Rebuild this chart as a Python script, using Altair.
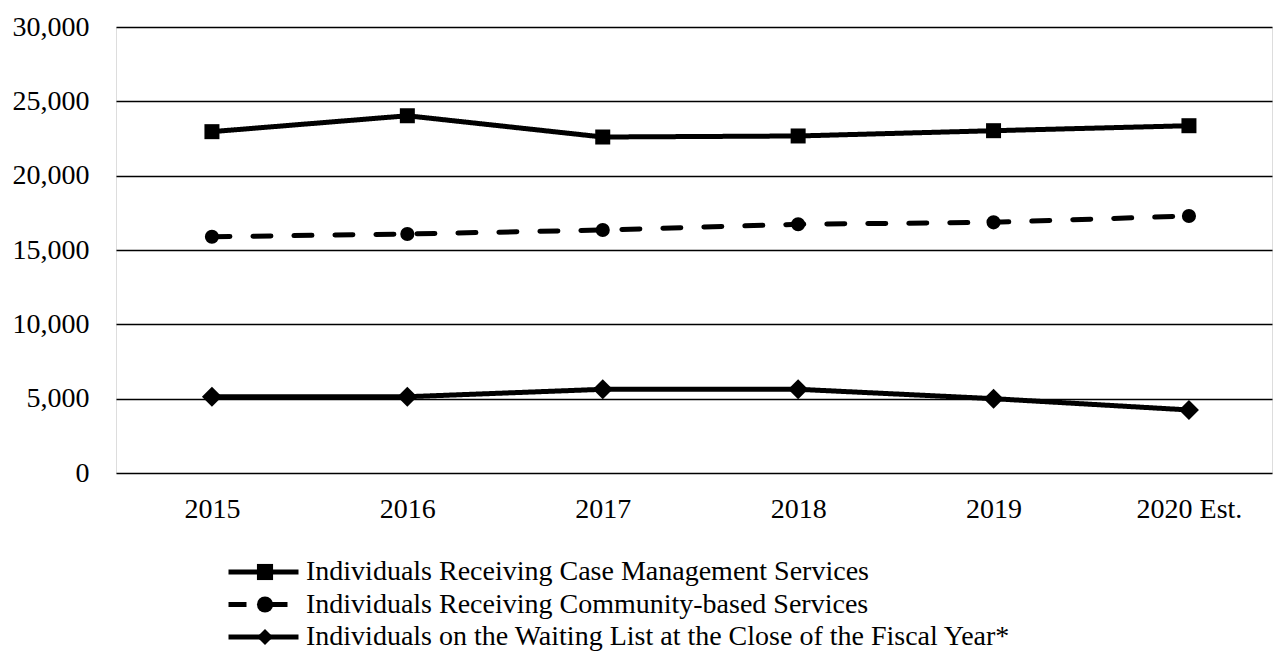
import altair as alt
import pandas as pd

years = ["2015", "2016", "2017", "2018", "2019", "2020 Est."]
case_mgmt = [22960, 24030, 22600, 22670, 23025, 23360]
community = [15890, 16075, 16345, 16730, 16860, 17290]
waiting = [5130, 5130, 5630, 5630, 5000, 4240]

series_names = [
    "Individuals Receiving Case Management Services",
    "Individuals Receiving Community-based Services",
    "Individuals on the Waiting List at the Close of the Fiscal Year*",
]
marker_shapes = ["square", "circle", "diamond"]
marker_sizes = [225, 200, 400]
dash_styles = [[1, 0], [18, 23], [1, 0]]

rows = []
for name, vals in zip(series_names, [case_mgmt, community, waiting]):
    for yr, v in zip(years, vals):
        rows.append({"year": yr, "value": v, "series": name})
df = pd.DataFrame(rows)

FONT = "Liberation Serif"

x_enc = alt.X("year:N", sort=years, title=None,
              scale=alt.Scale(type="point", padding=0.458, align=0.536),
              axis=alt.Axis(labelAngle=0, ticks=False, domain=False, grid=False,
                            labelFont=FONT, labelFontSize=28, labelColor="black",
                            labelPadding=22))
y_enc = alt.Y("value:Q", title=None,
              scale=alt.Scale(domain=[0, 30000], nice=False),
              axis=alt.Axis(values=[0, 5000, 10000, 15000, 20000, 25000, 30000],
                            format=",d", ticks=False, domain=False, grid=True,
                            gridColor="black", gridWidth=1.5, gridOpacity=1,
                            labelFont=FONT, labelFontSize=28, labelColor="black",
                            labelPadding=27))

base = alt.Chart(df)

# legend 1: line-style symbols with the labels
line_legend = alt.Legend(title=None, orient="none", legendX=110, legendY=531,
                         direction="vertical", symbolType="stroke",
                         symbolSize=4900, symbolStrokeWidth=5,
                         symbolStrokeColor="black", clipHeight=28,
                         labelFont=FONT, labelFontSize=28, labelColor="black",
                         labelLimit=1000, labelOffset=5, rowPadding=4.5, padding=0)

# legend 2: marker symbols drawn on top of the line symbols (labels hidden)
marker_legend = alt.Legend(title=None, orient="none", legendX=135, legendY=531,
                           direction="vertical", symbolSize=260,
                           symbolStrokeWidth=0, symbolFillColor="black",
                           symbolOpacity=1, clipHeight=28,
                           labelFont=FONT, labelFontSize=28, labelOpacity=0,
                           labelLimit=1000, labelOffset=5, rowPadding=4.5, padding=0)

lines = base.mark_line(color="black", strokeWidth=5, strokeCap="round").encode(
    x=x_enc, y=y_enc,
    detail="series:N",
    strokeDash=alt.StrokeDash("series:N", sort=series_names,
                              scale=alt.Scale(range=dash_styles),
                              legend=line_legend),
)

point_layers = []
for name, shp, sz in zip(series_names, marker_shapes, marker_sizes):
    point_layers.append(
        base.transform_filter(alt.datum.series == name)
        .mark_point(filled=True, color="black", opacity=1, shape=shp, size=sz)
        .encode(x=x_enc, y=y_enc)
    )

# layer that only provides the marker legend (draws nothing itself)
legend_layer = base.transform_filter("false").mark_point(
    filled=True, color="black").encode(
    x=x_enc, y=y_enc,
    shape=alt.Shape("series:N",
                    scale=alt.Scale(domain=series_names, range=marker_shapes),
                    legend=marker_legend),
)

chart = alt.layer(lines, *point_layers, legend_layer).resolve_scale(
    shape="independent", strokeDash="independent"
).properties(
    width=1156, height=446,
    padding={"left": 12, "top": 13, "right": 4, "bottom": 0},
).configure_view(
    stroke="black", strokeWidth=1.5
).configure(background="white")

chart.save("out.html", embed_options={"renderer": "svg", "actions": False})
